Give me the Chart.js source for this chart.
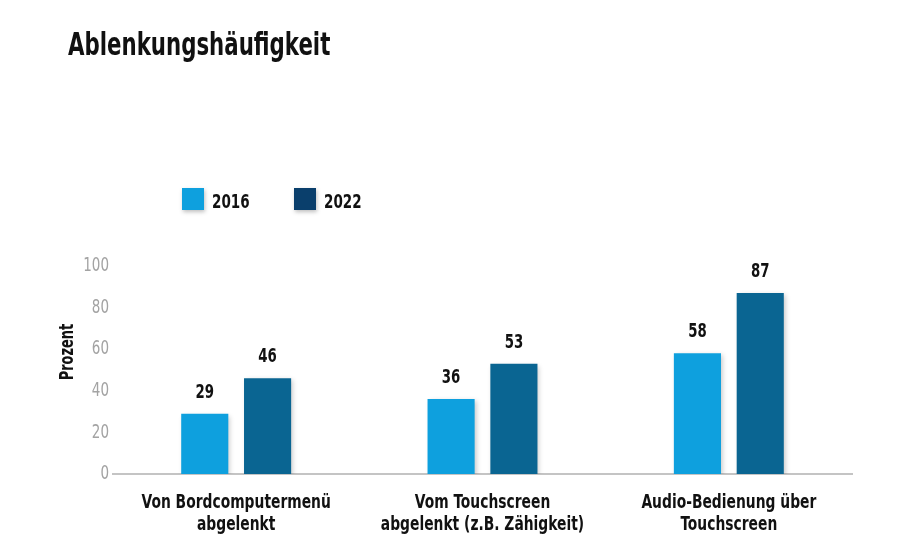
<!DOCTYPE html>
<html>
<head>
<meta charset="utf-8">
<script src="https://cdn.jsdelivr.net/npm/chart.js@4"></script>
<style>
  html, body { margin: 0; padding: 0; background: #fff; }
  #wrap { width: 910px; height: 548px; position: relative; }
</style>
</head>
<body>
<div id="wrap"><canvas id="chart"></canvas></div>
<script>
const title = 'Ablenkungshäufigkeit';
const yTitle = 'Prozent';
const categories = [
  ['Von Bordcomputermenü', 'abgelenkt'],
  ['Vom Touchscreen', 'abgelenkt (z.B. Zähigkeit)'],
  ['Audio-Bedienung über', 'Touchscreen']
];
const seriesNames = ['2016', '2022'];
const values2016 = [29, 36, 58];
const values2022 = [46, 53, 87];
const yTicks = [0, 20, 40, 60, 80, 100];

const FONT = '"Liberation Sans Narrow", "DejaVu Sans Condensed", "Roboto", sans-serif';
const SQUEEZE = 0.75; // the original uses a narrow grotesque, squash DejaVu to match
const barColors = ['#0ea0de', '#0a6592'];
const legendColors = ['#0ea0de', '#0a3f6c'];

function squeezed(c, text, x, y, align, sx) {
  c.save();
  c.translate(x, y);
  c.scale(sx || SQUEEZE, 1);
  c.textAlign = align;
  c.fillText(text, 0, 0);
  c.restore();
}

// title, legend and axis texts
const textPlugin = {
  id: 'texts',
  afterDraw(chart) {
    const c = chart.ctx;
    const xs = chart.scales.x, ys = chart.scales.y;
    c.save();
    c.fillStyle = '#111';
    c.textBaseline = 'alphabetic';
    c.font = 'bold 32px ' + FONT;
    squeezed(c, title, 68, 55, 'left', 0.74);

    // legend
    let x = 182;
    c.font = 'bold 20px ' + FONT;
    seriesNames.forEach((name, i) => {
      c.save();
      c.shadowColor = 'rgba(0,0,0,0.25)';
      c.shadowBlur = 4;
      c.shadowOffsetX = 1;
      c.shadowOffsetY = 2;
      c.fillStyle = legendColors[i];
      c.fillRect(x, 188, 22, 22);
      c.restore();
      c.fillStyle = '#111';
      squeezed(c, name, x + 30, 208, 'left');
      x += 112;
    });

    // y ticks
    c.font = '20px ' + FONT;
    c.fillStyle = '#a3a3a3';
    c.textBaseline = 'middle';
    yTicks.forEach(v => squeezed(c, String(v), 109, ys.getPixelForValue(v), 'right'));

    // y title
    c.save();
    c.font = 'bold 20px ' + FONT;
    c.fillStyle = '#111';
    c.textBaseline = 'alphabetic';
    c.translate(73, (ys.top + ys.bottom) / 2 - 18);
    c.rotate(-Math.PI / 2);
    squeezed(c, yTitle, 0, 0, 'center', 0.72);
    c.restore();

    // category labels
    c.font = 'bold 20px ' + FONT;
    c.fillStyle = '#111';
    c.textBaseline = 'alphabetic';
    categories.forEach((lines, i) => {
      const cx = xs.getPixelForValue(i);
      lines.forEach((line, j) => squeezed(c, line, cx, ys.bottom + 34 + j * 22, 'center', 0.77));
    });
    c.restore();
  }
};

const shadowPlugin = {
  id: 'barShadow',
  beforeDatasetsDraw(chart) {
    const c = chart.ctx;
    c.save();
    c.shadowColor = 'rgba(0,0,0,0.22)';
    c.shadowBlur = 5;
    c.shadowOffsetX = 2;
    c.shadowOffsetY = 2;
  },
  afterDatasetsDraw(chart) {
    chart.ctx.restore();
  }
};

const valueLabels = {
  id: 'valueLabels',
  afterDatasetsDraw(chart) {
    const c = chart.ctx;
    c.save();
    c.font = 'bold 20px ' + FONT;
    c.fillStyle = '#111';
    c.textBaseline = 'alphabetic';
    chart.data.datasets.forEach((ds, di) => {
      chart.getDatasetMeta(di).data.forEach((bar, i) => {
        squeezed(c, String(ds.data[i]), bar.x, bar.y - 16, 'center', 0.74);
      });
    });
    c.restore();
  }
};

new Chart(document.getElementById('chart'), {
  type: 'bar',
  data: {
    labels: categories,
    datasets: [
      { label: seriesNames[0], data: values2016, backgroundColor: barColors[0] },
      { label: seriesNames[1], data: values2022, backgroundColor: barColors[1] }
    ]
  },
  options: {
    responsive: true,
    maintainAspectRatio: false,
    animation: false,
    layout: { padding: { top: 266, left: 113, right: 58, bottom: 66 } },
    datasets: { bar: { categoryPercentage: 0.51, barPercentage: 0.75 } },
    plugins: {
      legend: { display: false },
      tooltip: { enabled: false }
    },
    scales: {
      x: {
        grid: { display: false },
        border: { display: true, color: '#c4c4c4', width: 2 },
        ticks: { display: false }
      },
      y: {
        display: false,
        min: 0,
        max: 100
      }
    }
  },
  plugins: [shadowPlugin, valueLabels, textPlugin]
});
</script>
</body>
</html>
